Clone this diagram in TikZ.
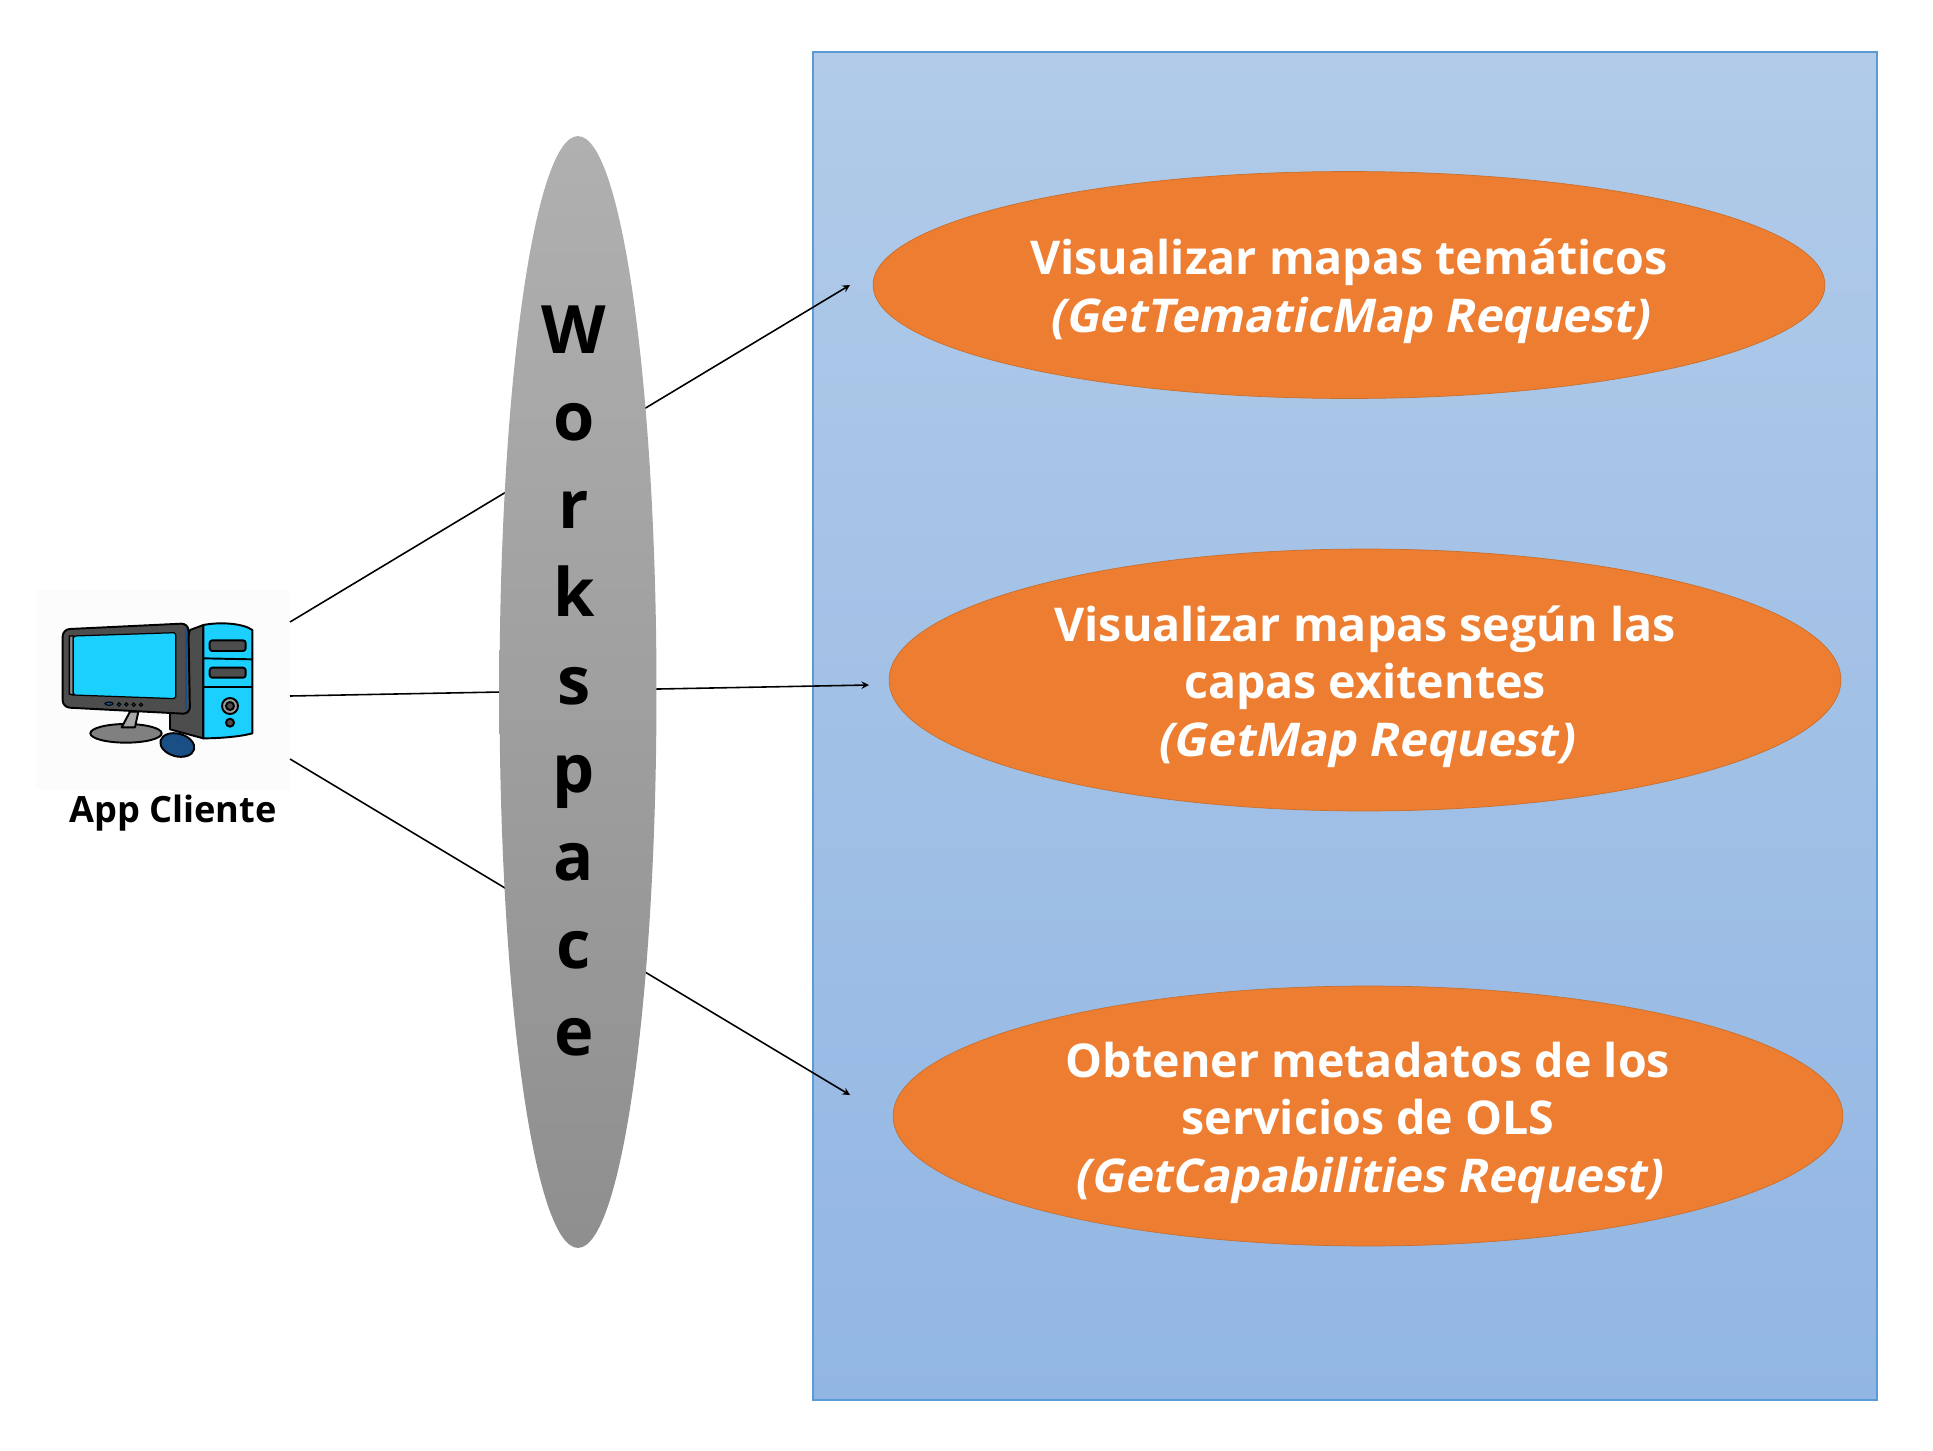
\documentclass[tikz,border=0pt]{standalone}
\usepackage{fontspec}
\setmainfont{Open Sans}
\newfontface\reqslant{Open Sans Bold}[FakeSlant=0.2]
\newcommand{\reqtop}{\rule{0pt}{27.6pt}}
\usetikzlibrary{shapes.geometric}
\definecolor{panelblue}{HTML}{5B9BD5}
\definecolor{panelTop}{HTML}{B1CBE9}
\definecolor{panelBot}{HTML}{92B6E3}
\definecolor{reqorange}{HTML}{ED7D31}
\definecolor{reqline}{HTML}{C8702E}
\definecolor{screencyan}{HTML}{1BCFFF}
\definecolor{pcdark}{HTML}{4D4D4D}
\definecolor{mouseblue}{HTML}{1A4F86}
\tikzset{
  reqnode/.style={ellipse, draw=reqline, fill=reqorange, line width=0.4pt, inner xsep=0pt, inner ysep=-10pt,
    minimum width=19.04cm, minimum height=5.24cm, text=white, align=center,
    font=\fontsize{26.5}{32.8}\selectfont\bfseries},
  pcpart/.style={draw=black, line width=1.1pt, line join=round},
  wire/.style={draw=black, line width=0.9pt},
}
\begin{document}
\begin{tikzpicture}[x=0.02cm, y=-0.02cm]
\useasboundingbox (0,0) rectangle (1933,1450);
\draw[panelblue, line width=0.6pt, top color=panelTop, bottom color=panelBot] (813,52) rectangle (1877,1400);
\node[fill=black!1, minimum width=5.08cm, minimum height=4cm, inner sep=0pt] (appbox) at (163,690){};
% ends of the connectors
\coordinate (appN) at (290,622);
\coordinate (appE) at (290,696);
\coordinate (appS) at (290,759);
\coordinate (endN) at (850,285);
\coordinate (endE) at (869,685);
\coordinate (endS) at (850,1095);
\draw[wire, -stealth](appN) -- (endN);
\draw[wire, -stealth](appE) -- (endE);
\draw[wire, -stealth](appS) -- (endS);
\node[ellipse, top color=black!31, bottom color=black!44, minimum width=3.14cm, minimum height=22.24cm, inner sep=0pt] (wsp) at (578,692){};
\node[font=\fontsize{38}{50}\selectfont\bfseries, align=center, inner sep=0pt] (wsplabel) at (574,681){W\\o\\r\\k\\s\\p\\a\\c\\e};
\node[reqnode, minimum height=4.54cm] (reqA) at (1349,285){\reqtop Visualizar mapas temáticos\\{\reqslant (GetTematicMap Request)}};
\node[reqnode] (reqB) at (1365,680){\reqtop Visualizar mapas según las\\capas exitentes\\{\reqslant (GetMap Request)}};
\node[reqnode, minimum height=5.2cm, minimum width=19cm] (reqC) at (1368,1116){\reqtop Obtener metadatos de los\\servicios de OLS\\{\reqslant (GetCapabilities Request)}};
\node[font=\fontsize{20.6}{25}\selectfont\bfseries, inner sep=0pt] (applabel) at (173,813){App Cliente};
% computer, coordinates of the zoomed icon
\begin{scope}[shift={(20,570)}, scale=1/3]
\draw[pcpart, fill=pcdark] (510,180) -- (550,165) -- (550,505) -- (450,478) -- (450,420) -- cycle;
\draw[pcpart, fill=screencyan] (550,165) .. controls (600,155) and (670,160) .. (697,180) -- (697,490) .. controls (660,500) and (600,505) .. (550,505) -- cycle;
\draw[pcpart] (550,265) -- (697,268);
\draw[pcpart] (550,352) -- (697,352);
\draw[pcpart, fill=pcdark, rounded corners=1.5pt] (569,211) rectangle (677,243);
\draw[pcpart, fill=pcdark, rounded corners=1.5pt] (569,293) rectangle (677,323);
\draw[pcpart, fill=black!40] (630,408) circle (24);
\draw[pcpart, fill=pcdark] (630,408) circle (12);
\draw[pcpart, fill=pcdark] (630,458) circle (12);
\draw[pcpart, fill=black!50] (318,490) ellipse (107 and 28);
\draw[pcpart, fill=black!35] (330,425) -- (355,425) -- (345,472) -- (305,472) -- cycle;
\draw[pcpart, fill=pcdark, rounded corners=4pt] (128,178) -- (505,160) -- (510,432) -- (128,412) -- cycle;
\draw[mouseblue, line width=1.5pt] (498,178) -- (498,420);
\draw[black, line width=0.8pt, fill=black!45] (148,198) -- (160,198) -- (160,375) -- (148,372) -- cycle;
\draw[pcpart, line width=0.7pt, fill=screencyan, rounded corners=1pt] (160,198) -- (467,188) -- (467,386) -- (160,375) -- cycle;
\draw[black, line width=0.6pt, fill=mouseblue] (267,401) ellipse (12 and 5);
\draw[black, line width=0.6pt, fill=mouseblue] (297,403) circle (5);
\draw[black, line width=0.6pt, fill=mouseblue] (319,403) circle (5);
\draw[black, line width=0.6pt, fill=mouseblue] (341,404) circle (5);
\draw[black, line width=0.6pt, fill=mouseblue] (363,404) circle (5);
\draw[pcpart, fill=mouseblue, rotate around={-15:(472,525)}] (472,525) ellipse (52 and 34);
\end{scope}
\end{tikzpicture}
\end{document}
